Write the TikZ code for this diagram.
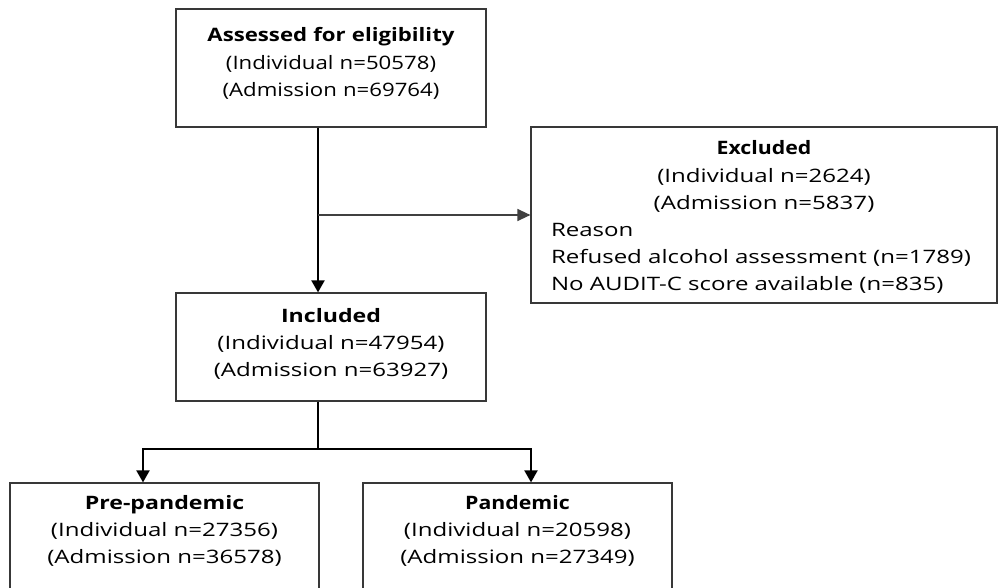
\documentclass[tikz,border=0pt]{standalone}
\usepackage{fontspec}
\setmainfont[FakeStretch=1.3]{Open Sans}
\newfontfamily\topfont[FakeStretch=1.2]{Open Sans}
\newfontfamily\titlefont[FakeStretch=1.25]{Open Sans}
\newfontfamily\pantitlefont[FakeStretch=1.15]{Open Sans}
\usetikzlibrary{arrows.meta}
\begin{document}
\begin{tikzpicture}[x=1pt,y=-1pt,
  box/.style={draw=black!78, line width=1.2pt, inner sep=0pt, align=center,
    font=\fontsize{18.5}{27.2}\selectfont, anchor=base},
  thinarrow/.style={line width=1.3pt, black!75, -{Triangle[length=13pt,width=12pt]}},
  thickarrow/.style={line width=2pt, black, -{Triangle[length=12pt,width=13pt]}},
  splitline/.style={line width=2pt, black}]
\useasboundingbox (0,0) rectangle (998,588);
\clip (0,0) rectangle (998,588);
\fill[white] (0,0) rectangle (998,588);
% boxes
\node[box, text width=310pt, text height=33pt, text depth=85pt, font=\fontsize{18.5}{27.2}\topfont] (top) at (331,42)
  {\textbf{Assessed for eligibility}\\(Individual n=50578)\\(Admission n=69764)};
\node[box, text width=310pt, text height=29pt, text depth=79pt] (incl) at (331,322)
  {{\titlefont\textbf{Included}}\\(Individual n=47954)\\(Admission n=63927)};
\node[box, text width=466pt, text height=28pt, text depth=148pt, align=left] (excl) at (764,155)
  {{\centering{\pantitlefont\textbf{Excluded}}\\(Individual n=2624)\\(Admission n=5837)\par}%
   \hspace*{20pt}Reason\\\hspace*{20pt}Refused alcohol assessment (n=1789)\\\hspace*{20pt}No AUDIT-C score available (n=835)};
\node[box, text width=309pt, text height=26pt, text depth=120pt] (pre) at (164.5,509)
  {{\titlefont\textbf{Pre-pandemic}}\\(Individual n=27356)\\(Admission n=36578)};
\node[box, text width=309pt, text height=26pt, text depth=120pt] (pan) at (517.5,509)
  {{\pantitlefont\textbf{Pandemic}}\\(Individual n=20598)\\(Admission n=27349)};
% connectors
\coordinate (sx) at (318,0);
\coordinate (split) at (318,449);
\coordinate (lx) at (143,0);
\coordinate (rx) at (531,0);
\draw[thickarrow] (top.south -| sx) -- (incl.north -| sx);
\draw[thinarrow] (excl.west -| sx) -- (excl.west);
\draw[splitline] (incl.south -| sx) -- (split);
\draw[thickarrow] (split) -| (pre.north -| lx);
\draw[thickarrow] (split) -| (pan.north -| rx);
\end{tikzpicture}
\end{document}
